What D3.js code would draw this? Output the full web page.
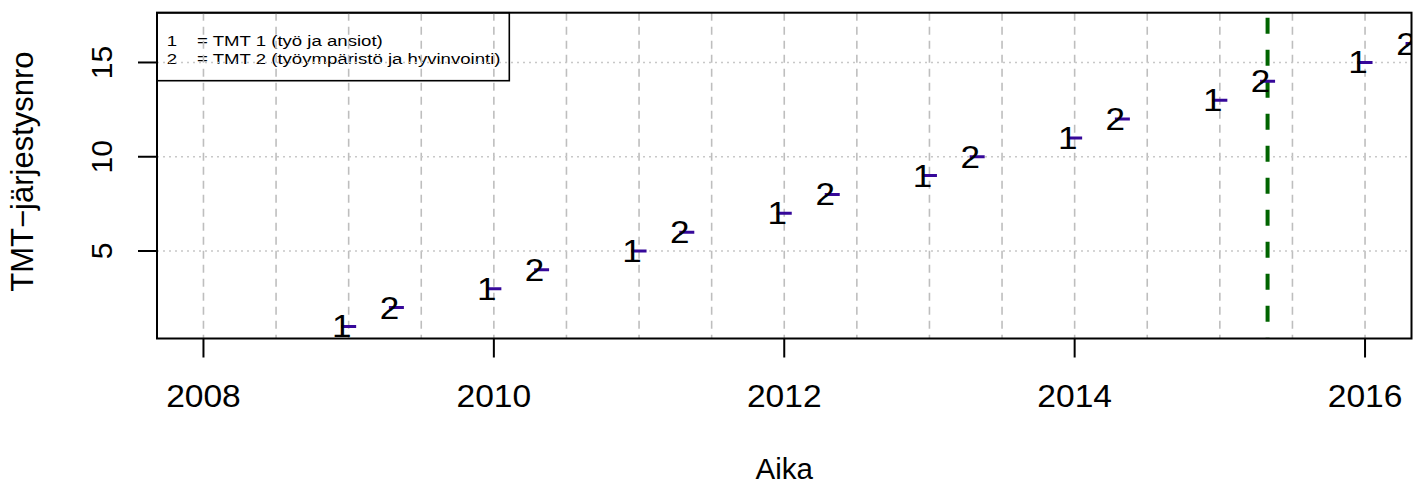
<!DOCTYPE html>
<html><head><meta charset="utf-8">
<script src="https://cdn.jsdelivr.net/npm/d3@7"></script>
<style>
body{margin:0;background:#fff}
svg{display:block}
text{font-family:"Liberation Sans",Arial,Helvetica,sans-serif;fill:#000}
</style>
</head><body>
<svg id="c" width="1419" height="486"></svg>
<script>
// ---- data ----
const releaseDates = ["2009-01-01","2009-05-01","2010-01-01","2010-05-01","2011-01-01","2011-05-01",
  "2012-01-01","2012-05-01","2013-01-01","2013-05-01","2014-01-01","2014-05-01",
  "2015-01-01","2015-05-01","2016-01-01","2016-05-01"];
const orderNumbers = [1,2,3,4,5,6,7,8,9,10,11,12,13,14,15,16];
const tmtTypes = ["1","2","1","2","1","2","1","2","1","2","1","2","1","2","1","2"];
const xTickYears = [2008,2010,2012,2014,2016];
const yTickValues = [5,10,15];
const legendSymbols = ["1","2"];
const legendLabels = ["= TMT 1 (työ ja ansiot)","= TMT 2 (työympäristö ja hyvinvointi)"];
const markerDate = "2015-05-01";
const xLimYears = [2008,2016];
const yLim = [1,17];

// ---- helpers ----
function decYear(s){
  const d = new Date(s+"T00:00:00Z");
  const y = d.getUTCFullYear();
  const start = Date.UTC(y,0,1), end = Date.UTC(y+1,0,1);
  return y + (d - start)/(end - start);
}
const data = releaseDates.map((d,i)=>({x:decYear(d), y:orderNumbers[i], t:tmtTypes[i]}));

const L=157, R=1411.5, T=12.7, B=338.5;
const xe = (xLimYears[1]-xLimYears[0])*0.04, ye=(yLim[1]-yLim[0])*0.04;
const x = d3.scaleLinear().domain([xLimYears[0]-xe, xLimYears[1]+xe]).range([L,R]);
const y = d3.scaleLinear().domain([yLim[0]-ye, yLim[1]+ye]).range([B,T]);

const svg = d3.select("#c");
svg.append("defs").append("clipPath").attr("id","plotclip")
  .append("rect").attr("x",L).attr("y",T).attr("width",R-L).attr("height",B-T);

// legend box (no fill, under gridlines)
svg.append("rect").attr("x",L).attr("y",T).attr("width",509.3-L).attr("height",80.7-T)
  .attr("fill","none").attr("stroke","#000").attr("stroke-width",1.6);
const lg = svg.append("g");
legendSymbols.forEach((s,i)=>{
  const by = 46 + i*17.5;
  lg.append("text").attr("transform",`translate(172,${by}) scale(1.2,1)`).attr("text-anchor","middle")
    .attr("font-size",15.5).text(s);
  lg.append("text").attr("transform",`translate(197,${by}) scale(1.2,1)`).attr("font-size",15.5).text(legendLabels[i]);
});

const pg = svg.append("g").attr("clip-path","url(#plotclip)");
// vertical dashed gridlines every half-year
const halfYears = d3.range(xLimYears[0], xLimYears[1]+0.001, 0.5);
pg.selectAll("line.vg").data(halfYears).join("line")
  .attr("x1",d=>x(d)).attr("x2",d=>x(d)).attr("y1",T).attr("y2",B)
  .attr("stroke","#bebebe").attr("stroke-width",1.6).attr("stroke-dasharray","8,6");
// horizontal dotted gridlines
pg.selectAll("line.hg").data(yTickValues).join("line")
  .attr("x1",L).attr("x2",R).attr("y1",d=>y(d)).attr("y2",d=>y(d))
  .attr("stroke","#c8c8c8").attr("stroke-width",1.4).attr("stroke-dasharray","2,4");
// green dashed marker line
pg.append("line").attr("x1",x(decYear(markerDate))).attr("x2",x(decYear(markerDate)))
  .attr("y1",T).attr("y2",B).attr("stroke","#006400").attr("stroke-width",4)
  .attr("stroke-dasharray","16,16").attr("stroke-dashoffset",-5);
// segments
pg.selectAll("line.seg").data(data).join("line")
  .attr("x1",d=>x(d.x)-7.5).attr("x2",d=>x(d.x)+7.5).attr("y1",d=>y(d.y)).attr("y2",d=>y(d.y))
  .attr("stroke","#36089a").attr("stroke-width",3);
// labels
pg.selectAll("text.lab").data(data).join("text")
  .attr("transform",d=>`translate(${x(d.x)-7},${y(d.y)+11}) scale(1.15,1)`)
  .attr("text-anchor","middle").attr("font-size",30.5).text(d=>d.t);

// box
svg.append("rect").attr("x",L).attr("y",T).attr("width",R-L).attr("height",B-T)
  .attr("fill","none").attr("stroke","#000").attr("stroke-width",2);

// x axis
const xa = svg.append("g");
xa.selectAll("line").data(xTickYears).join("line")
  .attr("x1",d=>x(d)).attr("x2",d=>x(d)).attr("y1",B).attr("y2",B+19)
  .attr("stroke","#000").attr("stroke-width",2);
xa.selectAll("text").data(xTickYears).join("text")
  .attr("transform",d=>`translate(${x(d)},407) scale(1.1,1)`)
  .attr("text-anchor","middle").attr("font-size",30.5).text(d=>d);
// y axis
const ya = svg.append("g");
ya.selectAll("line").data(yTickValues).join("line")
  .attr("x1",L-19).attr("x2",L).attr("y1",d=>y(d)).attr("y2",d=>y(d))
  .attr("stroke","#000").attr("stroke-width",2);
ya.selectAll("text").data(yTickValues).join("text")
  .attr("transform",d=>`translate(112,${y(d)}) rotate(-90)`)
  .attr("text-anchor","middle").attr("font-size",30).text(d=>d);

// axis titles
svg.append("text").attr("x",(L+R)/2).attr("y",479).attr("text-anchor","middle")
  .attr("font-size",29.5).text("Aika");
svg.append("text").attr("transform",`translate(33,${(T+B)/2 - 4}) rotate(-90)`)
  .attr("text-anchor","middle").attr("font-size",31).text("TMT\u2212järjestysnro");
</script>
</body></html>
